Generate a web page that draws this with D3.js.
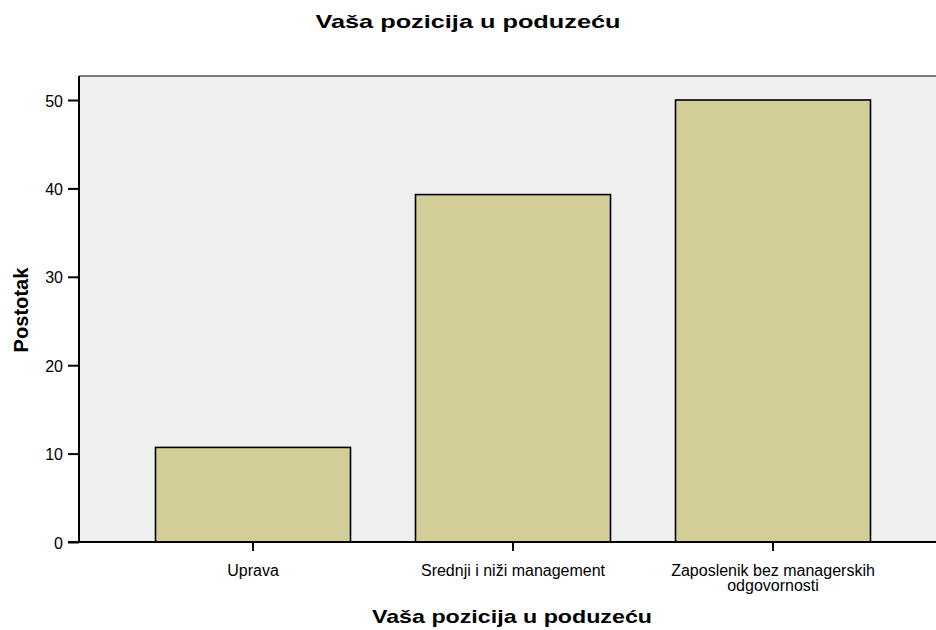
<!DOCTYPE html>
<html>
<head>
<meta charset="utf-8">
<script src="https://d3js.org/d3.v7.min.js"></script>
<style>
  body { margin: 0; background: #fff; }
  text { font-family: "Liberation Sans", Arial, sans-serif; fill: #000; }
</style>
</head>
<body>
<div id="chart"></div>
<script>
var categories = ["Uprava", "Srednji i niži management", "Zaposlenik bez managerskih odgovornosti"];
var values = [10.7, 39.3, 50.0];
var yTicks = [0, 10, 20, 30, 40, 50];

var width = 936, height = 630;
var plotLeft = 79, plotTop = 76, plotBottom = 542;

var svg = d3.select("#chart").append("svg")
    .attr("width", width)
    .attr("height", height);

// plot background
svg.append("rect")
    .attr("x", plotLeft).attr("y", plotTop)
    .attr("width", width - plotLeft).attr("height", plotBottom - plotTop)
    .attr("fill", "#efefef");

svg.append("line")
    .attr("x1", plotLeft).attr("x2", width)
    .attr("y1", plotTop).attr("y2", plotTop)
    .attr("stroke", "#000").attr("stroke-width", 1.2);

var x = d3.scaleBand()
    .domain(categories)
    .range([123, 903])
    .paddingInner(0.25)
    .paddingOuter(0.125);

var y = d3.scaleLinear()
    .domain([0, 50])
    .range([plotBottom, 100]);

// bars
svg.append("g").selectAll("rect")
    .data(values)
  .enter().append("rect")
    .attr("x", function(d, i) { return x(categories[i]); })
    .attr("y", function(d) { return y(d); })
    .attr("width", x.bandwidth())
    .attr("height", function(d) { return y(0) - y(d); })
    .attr("fill", "#d3ce97")
    .attr("stroke", "#000")
    .attr("stroke-width", 1.6);

// y axis
var yAxis = svg.append("g")
    .attr("transform", "translate(" + plotLeft + ",0)")
    .call(d3.axisLeft(y).tickValues(yTicks).tickSize(11).tickPadding(5));
yAxis.select(".domain").attr("d", "M0," + plotTop + "V" + (plotBottom + 1)).attr("stroke-width", 2);
yAxis.selectAll(".tick line").attr("stroke-width", 2);
yAxis.selectAll(".tick text")
    .attr("dy", "0.38em")
    .style("font-size", "16px")
    .style("font-family", "Liberation Sans, Arial, sans-serif");

// x axis
var xAxis = svg.append("g")
    .attr("transform", "translate(0," + plotBottom + ")")
    .call(d3.axisBottom(x).tickSize(9).tickPadding(14));
xAxis.select(".domain").attr("d", "M" + (plotLeft - 11) + ",0H" + width).attr("stroke-width", 2);
xAxis.selectAll(".tick line").attr("stroke-width", 2);
xAxis.selectAll(".tick text")
    .style("font-size", "16px")
    .style("font-family", "Liberation Sans, Arial, sans-serif")
    .each(function(d) {
      var t = d3.select(this);
      if (d === "Zaposlenik bez managerskih odgovornosti") {
        t.text(null);
        t.append("tspan").attr("x", 0).attr("dy", "0.71em").text("Zaposlenik bez managerskih");
        t.append("tspan").attr("x", 0).attr("dy", "15px").text("odgovornosti");
        t.attr("dy", null);
      }
    });

// titles
svg.append("text")
    .attr("x", 468).attr("y", 28)
    .attr("text-anchor", "middle")
    .attr("textLength", 305).attr("lengthAdjust", "spacingAndGlyphs")
    .style("font-size", "19px").style("font-weight", "bold")
    .text("Vaša pozicija u poduzeću");

svg.append("text")
    .attr("x", 512).attr("y", 623)
    .attr("text-anchor", "middle")
    .attr("textLength", 280).attr("lengthAdjust", "spacingAndGlyphs")
    .style("font-size", "19px").style("font-weight", "bold")
    .text("Vaša pozicija u poduzeću");

svg.append("text")
    .attr("transform", "translate(28," + 310 + ") rotate(-90)")
    .attr("text-anchor", "middle")
    .attr("textLength", 85).attr("lengthAdjust", "spacingAndGlyphs")
    .style("font-size", "20px").style("font-weight", "bold")
    .text("Postotak");
</script>
</body>
</html>
